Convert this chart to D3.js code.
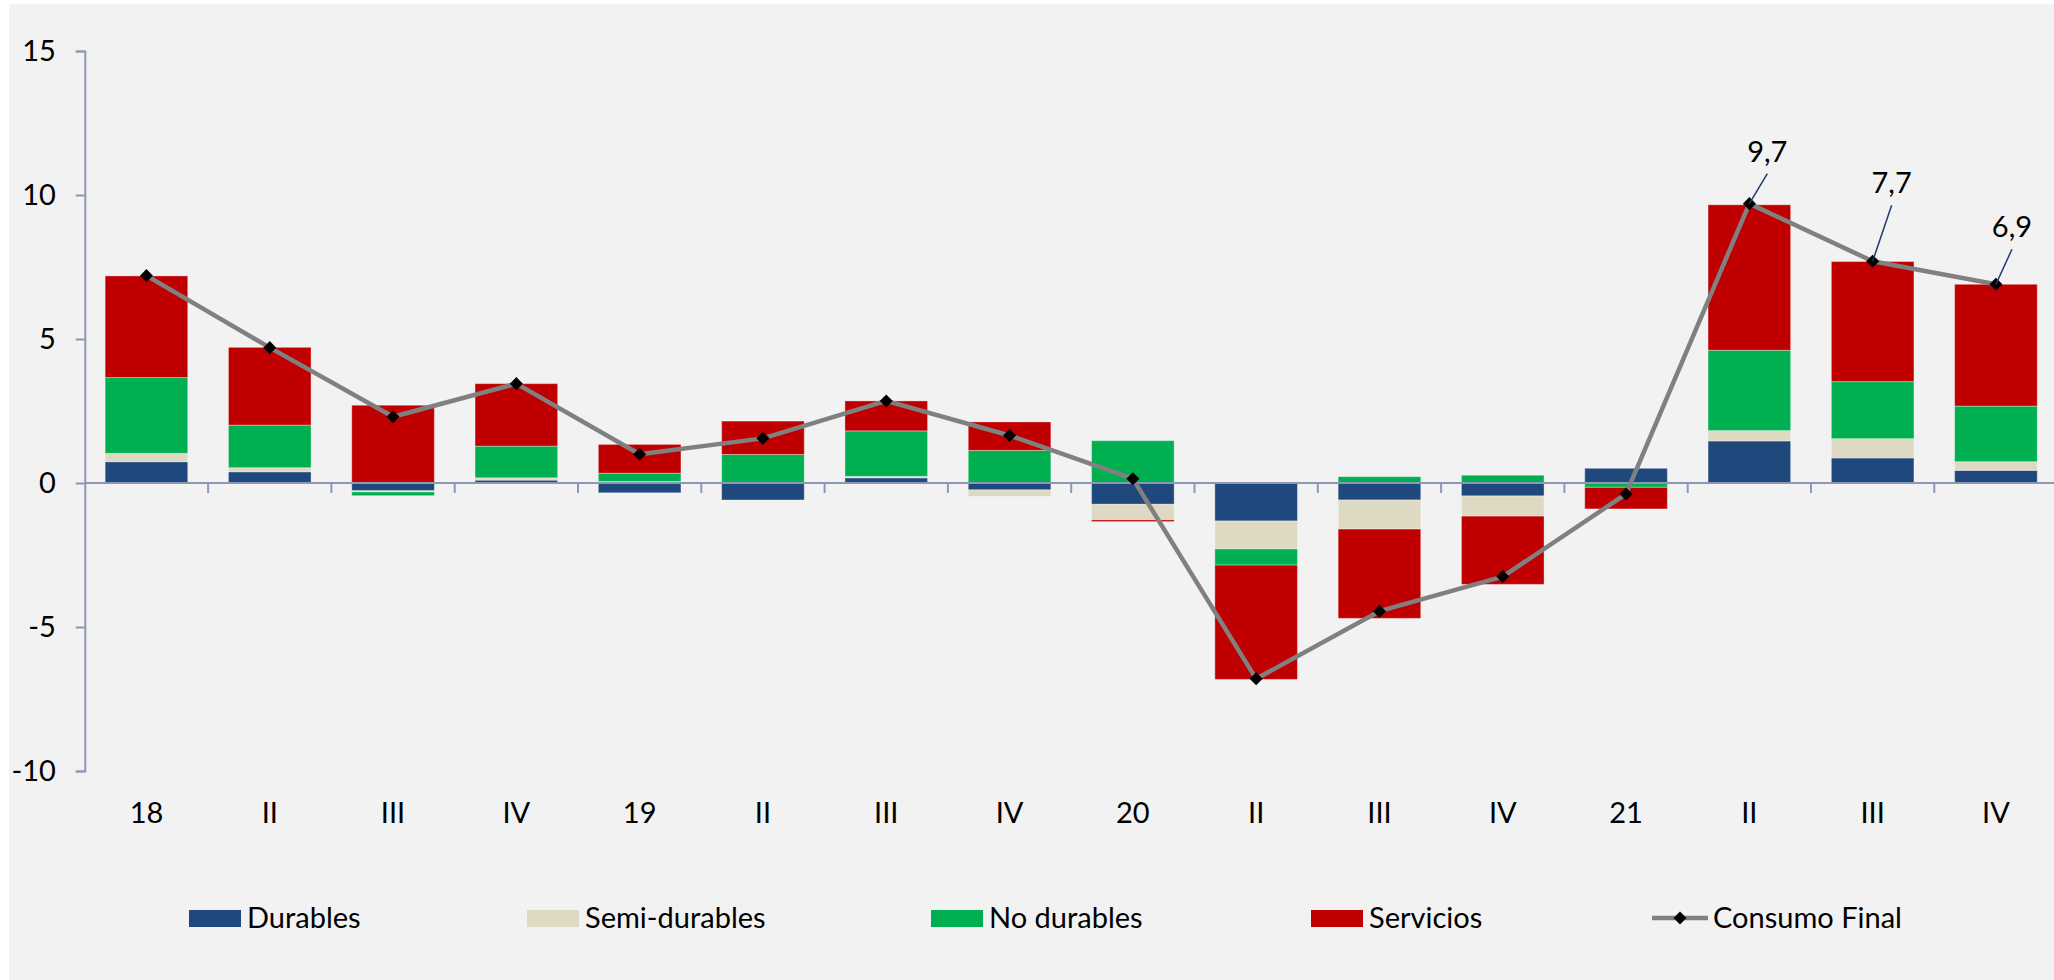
<!DOCTYPE html>
<html>
<head>
<meta charset="utf-8">
<script src="https://cdn.jsdelivr.net/npm/d3@7"></script>
<style>
  body { margin: 0; background: #fff; }
  text { font-family: Lato, "Open Sans", sans-serif; fill: #000; }
</style>
</head>
<body>
<script>
/*
 * Data
 *
 */
const categories = ["18", "II", "III", "IV", "19", "II", "III", "IV", "20", "II", "III", "IV", "21", "II", "III", "IV"];

const durables = [0.74, 0.39, -0.27, 0.10, -0.34, -0.59, 0.18, -0.24, -0.74, -1.32, -0.59, -0.45, 0.51, 1.46, 0.87, 0.44];
const semiDurables = [0.29, 0.14, -0.04, 0.08, 0.05, 0.02, 0.05, -0.23, -0.54, -0.97, -1.01, -0.70, -0.02, 0.36, 0.67, 0.30];
const noDurables = [2.63, 1.48, -0.13, 1.10, 0.29, 0.97, 1.58, 1.13, 1.47, -0.56, 0.22, 0.27, -0.13, 2.79, 1.98, 1.93];
const servicios = [3.53, 2.70, 2.70, 2.17, 1.00, 1.16, 1.04, 0.99, -0.06, -3.97, -3.10, -2.37, -0.75, 5.05, 4.17, 4.23];
const consumoFinal = [7.2, 4.7, 2.3, 3.45, 1.0, 1.55, 2.85, 1.65, 0.15, -6.8, -4.45, -3.25, -0.38, 9.7, 7.7, 6.9];

const seriesNames = ["Durables", "Semi-durables", "No durables", "Servicios"];
const seriesColors = ["#1F497D", "#DDD9C3", "#00B050", "#C00000"];
const yTicks = [-10, -5, 0, 5, 10, 15];

// only the last three points carry a label
const labelIdx = [13, 14, 15];
const labelText = ["9,7", "7,7", "6,9"];

/*
 * Layout
 *
 */
const svgWidth = 2054,
  svgHeight = 980;

const xScale = d3.scaleBand()
  .domain(d3.range(categories.length))
  .range([84.8, 2057.6])
  .paddingInner(0.33)
  .paddingOuter(0.165);

const yScale = d3.scaleLinear()
  .domain([-10, 15])
  .range([771, 51]);

const svg = d3.select('body')
  .append('svg')
  .attr('width', svgWidth)
  .attr('height', svgHeight);

svg.append('rect')
  .attr('x', 9)
  .attr('y', 4)
  .attr('width', svgWidth - 9)
  .attr('height', svgHeight - 4)
  .attr('fill', '#F2F2F2');

/*
 * Stacked bars
 *
 */
const table = categories.map((c, i) => ({
  i: i,
  Durables: durables[i],
  "Semi-durables": semiDurables[i],
  "No durables": noDurables[i],
  Servicios: servicios[i]
}));

const stacked = d3.stack()
  .keys(seriesNames)
  .offset(d3.stackOffsetDiverging)(table);

const barLayer = svg.append('g');
stacked.forEach((layer, k) => {
  barLayer.append('g')
    .selectAll('rect')
    .data(layer)
    .enter()
    .append('rect')
    .attr('x', d => xScale(d.data.i))
    .attr('width', xScale.bandwidth())
    .attr('y', d => yScale(Math.max(d[0], d[1])))
    .attr('height', d => Math.abs(yScale(d[0]) - yScale(d[1])))
    .attr('fill', seriesColors[k])
    .attr('stroke', 'rgba(255,255,255,0.35)')
    .attr('stroke-width', 1);
});

/*
 * Axes
 *
 */
const axisColor = '#8C98B4';

// plain hyphen for negatives, like the original
const yAxis = svg.append('g')
  .attr('transform', `translate(${xScale.range()[0]},0)`)
  .call(d3.axisLeft(yScale).tickValues(yTicks).tickSize(9).tickPadding(20).tickFormat(d => String(d)));
yAxis.select('.domain').attr('stroke', axisColor).attr('stroke-width', 2);
yAxis.selectAll('.tick line').attr('stroke', axisColor).attr('stroke-width', 2);
yAxis.selectAll('text').style('font-size', '29px').attr('font-family', null);

// horizontal axis at zero with ticks between the categories
const y0 = yScale(0);
const zeroAxis = svg.append('g');
zeroAxis.append('line')
  .attr('x1', xScale.range()[0])
  .attr('x2', xScale.range()[1])
  .attr('y1', y0)
  .attr('y2', y0)
  .attr('stroke', axisColor)
  .attr('stroke-width', 2);
zeroAxis.selectAll('line.tk')
  .data(d3.range(1, categories.length))
  .enter()
  .append('line')
  .attr('class', 'tk')
  .attr('x1', i => xScale(i) - xScale.step() * xScale.paddingInner() / 2)
  .attr('x2', i => xScale(i) - xScale.step() * xScale.paddingInner() / 2)
  .attr('y1', y0)
  .attr('y2', y0 + 10)
  .attr('stroke', axisColor)
  .attr('stroke-width', 2);

// category labels sit at the bottom of the plot
const xAxis = svg.append('g')
  .attr('transform', `translate(0,${yScale(-10)})`)
  .call(d3.axisBottom(xScale).tickSize(0).tickPadding(31).tickFormat(i => categories[i]));
xAxis.select('.domain').remove();
xAxis.selectAll('text').style('font-size', '29px').attr('font-family', null);

/*
 * Consumo Final line
 *
 */
const cx = i => xScale(i) + xScale.bandwidth() / 2;

const line = d3.line()
  .x((d, i) => cx(i))
  .y(d => yScale(d));

svg.append('path')
  .datum(consumoFinal)
  .attr('d', line)
  .attr('fill', 'none')
  .attr('stroke', '#808080')
  .attr('stroke-width', 4.5)
  .attr('stroke-linejoin', 'round');

const diamond = d3.symbol(d3.symbolSquare, 85);
svg.append('g')
  .selectAll('path')
  .data(consumoFinal)
  .enter()
  .append('path')
  .attr('d', diamond)
  .attr('transform', (d, i) => `translate(${cx(i)},${yScale(d)}) rotate(45)`)
  .attr('fill', '#000');

// data labels with leader lines
const labelOffsets = [[18, -52], [19, -78], [16, -57]];
labelIdx.forEach((idx, k) => {
  const mx = cx(idx),
    my = yScale(consumoFinal[idx]);
  const lx = mx + labelOffsets[k][0],
    ly = my + labelOffsets[k][1];
  svg.append('line')
    .attr('x1', mx)
    .attr('y1', my)
    .attr('x2', lx)
    .attr('y2', ly + 22)
    .attr('stroke', '#1F3B6E')
    .attr('stroke-width', 1.5);
  svg.append('text')
    .attr('x', lx)
    .attr('y', ly + 10)
    .attr('text-anchor', 'middle')
    .style('font-size', '29px')
    .text(labelText[k]);
});

/*
 * Legend
 *
 */
const legendX = [189, 527, 931, 1311, 1652];
const legendY = 918;
const legend = svg.append('g');

seriesNames.forEach((name, k) => {
  legend.append('rect')
    .attr('x', legendX[k])
    .attr('y', legendY - 8)
    .attr('width', 52)
    .attr('height', 17)
    .attr('fill', seriesColors[k]);
  legend.append('text')
    .attr('x', legendX[k] + 58)
    .attr('y', legendY + 10)
    .style('font-size', '29px')
    .text(name);
});

legend.append('line')
  .attr('x1', legendX[4])
  .attr('x2', legendX[4] + 56)
  .attr('y1', legendY)
  .attr('y2', legendY)
  .attr('stroke', '#808080')
  .attr('stroke-width', 4.5);
legend.append('path')
  .attr('d', diamond)
  .attr('transform', `translate(${legendX[4] + 28},${legendY}) rotate(45)`)
  .attr('fill', '#000');
legend.append('text')
  .attr('x', legendX[4] + 61)
  .attr('y', legendY + 10)
  .style('font-size', '29px')
  .text('Consumo Final');
</script>
</body>
</html>
